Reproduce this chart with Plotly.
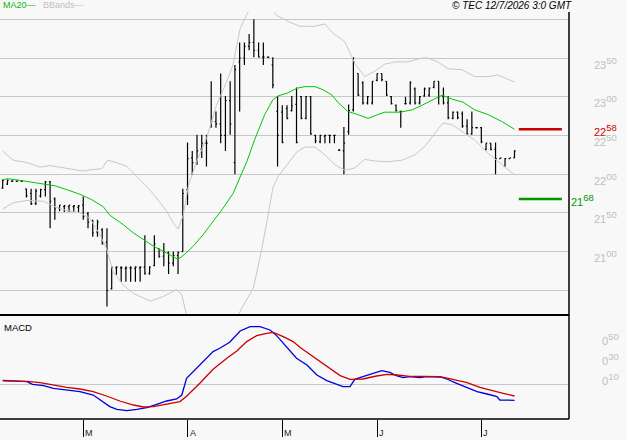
import plotly.graph_objects as go

# ---------------- data ----------------
opens = [21.82, 21.87, 21.91, 21.91, 21.91, 21.81, 21.75, 21.62, 21.72, 21.80,
         21.90, 21.68, 21.56, 21.58, 21.58, 21.58, 21.57, 21.60, 21.49, 21.40,
         21.25, 21.28, 21.12, 20.52, 20.79, 20.79, 20.78, 20.79, 20.78, 20.79,
         20.80, 20.72, 20.82, 21.04, 20.94, 20.99, 20.85, 20.95, 21.00, 21.80,
         22.21, 22.15, 22.32, 22.40, 22.62, 22.68, 22.65, 22.50, 22.95, 22.15,
         23.45, 23.50, 23.65, 23.70, 23.60, 23.51, 23.51, 23.41, 22.81, 22.80,
         22.85, 22.82, 22.90, 23.00, 22.72, 23.00, 22.50, 22.42, 22.49, 22.50,
         22.50, 22.31, 22.30, 22.55, 22.83, 23.30, 23.18, 22.92, 22.92, 23.21,
         23.30, 23.20, 23.00, 22.89, 22.81, 22.91, 22.92, 23.10, 22.92, 23.01,
         23.02, 23.12, 23.20, 23.00, 22.92, 22.72, 22.80, 22.78, 22.62, 22.52,
         22.60, 22.60, 22.32, 22.40, 22.32, 22.20, 22.10, 22.20, 22.21]
highs = [21.93, 21.93, 21.92, 21.92, 21.92, 21.81, 21.81, 21.81, 21.81, 21.91,
         21.91, 21.70, 21.60, 21.60, 21.60, 21.60, 21.60, 21.71, 21.51, 21.41,
         21.41, 21.30, 21.30, 20.81, 20.81, 20.81, 20.81, 20.81, 20.81, 20.81,
         21.21, 20.81, 21.21, 21.04, 21.11, 21.00, 21.00, 21.00, 21.81, 22.41,
         22.30, 22.51, 22.51, 22.51, 23.20, 22.81, 23.30, 23.01, 23.20, 23.41,
         23.70, 23.70, 23.81, 24.00, 23.70, 23.70, 23.52, 23.51, 23.01, 22.89,
         22.89, 23.01, 23.12, 23.01, 23.01, 23.01, 22.51, 22.51, 22.51, 22.51,
         22.51, 22.32, 22.61, 22.90, 23.51, 23.30, 23.20, 23.01, 23.20, 23.30,
         23.30, 23.20, 23.01, 22.90, 22.81, 23.00, 23.20, 23.12, 23.01, 23.12,
         23.12, 23.20, 23.20, 23.12, 23.01, 22.81, 22.81, 22.81, 22.71, 22.81,
         22.61, 22.61, 22.40, 22.40, 22.41, 22.21, 22.21, 22.21, 22.31]
lows = [21.81, 21.86, 21.90, 21.90, 21.90, 21.70, 21.60, 21.60, 21.70, 21.71,
        21.30, 21.41, 21.52, 21.51, 21.51, 21.51, 21.50, 21.41, 21.30, 21.19,
        21.19, 21.09, 20.29, 20.51, 20.70, 20.61, 20.61, 20.61, 20.61, 20.61,
        20.70, 20.70, 20.81, 20.92, 20.81, 20.71, 20.81, 20.71, 21.00, 21.60,
        21.99, 22.12, 22.21, 22.10, 22.60, 22.60, 22.40, 22.30, 22.51, 22.00,
        22.81, 23.41, 23.60, 23.51, 23.51, 23.41, 23.50, 23.11, 22.10, 22.40,
        22.71, 22.81, 22.40, 22.71, 22.71, 22.51, 22.40, 22.40, 22.40, 22.40,
        22.40, 22.30, 22.00, 22.51, 22.81, 23.01, 22.90, 22.90, 22.90, 23.20,
        23.20, 23.01, 22.90, 22.81, 22.60, 22.90, 22.90, 22.90, 22.90, 23.00,
        23.00, 23.11, 22.90, 22.90, 22.71, 22.71, 22.71, 22.60, 22.51, 22.51,
        22.59, 22.40, 22.31, 22.31, 22.00, 22.20, 22.10, 22.20, 22.21]
closes = [21.92, 21.92, 21.91, 21.91, 21.91, 21.72, 21.62, 21.78, 21.80, 21.90,
          21.65, 21.55, 21.60, 21.59, 21.60, 21.59, 21.59, 21.45, 21.38, 21.24,
          21.38, 21.10, 20.50, 20.79, 20.80, 20.79, 20.79, 20.79, 20.80, 20.80,
          20.72, 20.80, 21.10, 20.94, 21.00, 20.85, 20.95, 20.99, 21.75, 22.20,
          22.15, 22.30, 22.40, 22.40, 22.68, 22.65, 22.50, 22.95, 22.65, 23.35,
          23.50, 23.65, 23.70, 23.60, 23.51, 23.51, 23.51, 23.15, 22.50, 22.41,
          22.72, 22.88, 22.41, 22.72, 23.00, 22.52, 22.43, 22.50, 22.50, 22.50,
          22.50, 22.31, 22.40, 22.82, 23.45, 23.02, 22.92, 23.00, 23.20, 23.30,
          23.22, 23.02, 22.91, 22.82, 22.81, 22.91, 23.18, 22.92, 23.00, 23.10,
          23.11, 23.20, 23.00, 22.92, 22.73, 22.80, 22.73, 22.62, 22.52, 22.60,
          22.60, 22.42, 22.40, 22.32, 22.20, 22.21, 22.20, 22.21, 22.30]
bar_idx = list(range(len(closes)))

month_ticks = [17, 39, 59, 79, 101]
month_labels = ["M", "A", "M", "J", "J"]

ma_x = [0, 1.2, 3.6, 6.5, 8.9, 11, 13.5, 16.3, 18.8, 21.2, 22.6, 25.4, 27.6, 29.7, 31.8,
        34.6, 37, 38.5, 40.2, 42.3, 44.4, 46.5, 48.6, 50, 51.5, 53.2, 55.3, 57, 58.1,
        60.2, 62.1, 63.8, 65.9, 67.6, 69.5, 70.7, 72.8, 74.9, 77.1, 79.2, 80.6, 83.8,
        86.4, 88.5, 90.6, 92.7, 94.8, 97.1, 99.6, 102.4, 105.3, 108]
ma_v = [21.93, 21.94, 21.92, 21.89, 21.87, 21.85, 21.80, 21.74, 21.67, 21.58, 21.47,
        21.35, 21.24, 21.15, 21.07, 20.98, 20.90, 20.97, 21.07, 21.22, 21.39, 21.56,
        21.75, 21.95, 22.16, 22.45, 22.77, 22.96, 23.01, 23.05, 23.11, 23.13, 23.13,
        23.09, 23.02, 22.93, 22.81, 22.77, 22.72, 22.77, 22.80, 22.80, 22.83, 22.89,
        22.96, 23.02, 22.97, 22.93, 22.83, 22.77, 22.68, 22.58]

ub_x = [0, 2.2, 5.1, 7.9, 10, 12.1, 14.6, 17, 19.1, 20.9, 22.1, 24, 26.2, 28.3, 30.4,
        32.5, 34.6, 36, 37, 38.1, 39.2, 40.9, 43, 45.1, 47.3, 48.6, 50.1, 51.5, 54.5,
        57.8, 60.3, 62.7, 65.9, 68, 69.7, 72.2, 74.3, 76.4, 78.5, 80.6, 82.8, 85.5,
        88.5, 89.7, 91.8, 94, 96.9, 99.6, 102.4, 104.5, 108]
ub_v = [22.30, 22.18, 22.15, 22.09, 22.11, 22.09, 22.06, 22.04, 22.06, 22.07, 22.18,
        22.15, 22.10, 21.97, 21.84, 21.69, 21.52, 21.37, 21.29, 21.47, 21.86, 22.16,
        22.46, 22.89, 23.20, 23.41, 23.88, 24.06, 24.35, 24.05, 23.97, 23.91, 23.91,
        23.94, 23.82, 23.71, 23.43, 23.26, 23.33, 23.42, 23.45, 23.45, 23.50, 23.50,
        23.45, 23.36, 23.35, 23.26, 23.26, 23.28, 23.19]

lb_x = [0, 2.2, 5.1, 8.6, 11, 13.5, 16.3, 18.4, 20.5, 21.9, 23.3, 25.4, 27.6, 31.1,
        33.9, 36.7, 37.8, 38.8, 41, 44, 47, 50.1, 52.9, 54.7, 56, 57, 58.1, 60.2,
        62.1, 63.8, 65.9, 68, 70.1, 72.2, 74.3, 76.4, 78.5, 81.3, 84.2, 87, 89.1,
        91.2, 92.9, 94.8, 96.9, 99.6, 102.4, 105.3, 108]
lb_v = [21.55, 21.63, 21.66, 21.65, 21.58, 21.53, 21.50, 21.43, 21.22, 21.04, 20.74,
        20.57, 20.46, 20.36, 20.42, 20.51, 20.44, 20.18, 19.85, 19.60, 19.75, 20.23,
        20.53, 21.04, 21.47, 21.82, 21.97, 22.14, 22.29, 22.35, 22.35, 22.25, 22.12,
        22.05, 22.08, 22.19, 22.17, 22.16, 22.18, 22.25, 22.36, 22.53, 22.66, 22.64,
        22.55, 22.44, 22.27, 22.12, 21.99]

macd_x = [0, 5.1, 6.3, 8.6, 10.7, 13.5, 16.3, 19.1, 21.2, 22.6, 24.1, 26.2, 28.3, 30.4,
          32.5, 34.6, 36.7, 37.8, 38.8, 40.2, 42.3, 44.4, 45.8, 47.9, 50.1, 52.2, 54.3,
          56.4, 57.8, 59.9, 62, 64.2, 66.3, 68.4, 70.5, 71.8, 73.3, 74.3, 76, 78.1, 80,
          81.7, 83.2, 84.5, 85.9, 88, 89.5, 92.3, 93.7, 95.8, 98, 100.1, 102.2, 104.3,
          104.9, 108]
macd_v = [0.04, 0.027, 0.0, -0.013, -0.04, -0.06, -0.073, -0.107, -0.173, -0.223, -0.25,
          -0.263, -0.25, -0.233, -0.20, -0.167, -0.147, -0.107, 0.06, 0.127, 0.227, 0.327,
          0.36, 0.42, 0.533, 0.577, 0.577, 0.543, 0.487, 0.377, 0.26, 0.193, 0.093, 0.037,
          0.0, -0.023, -0.023, 0.05, 0.077, 0.11, 0.137, 0.12, 0.083, 0.067, 0.077, 0.067,
          0.077, 0.073, 0.053, 0.01, -0.033, -0.073, -0.097, -0.123, -0.157, -0.16]

sig_x = [0, 5.1, 7.9, 10.7, 13.5, 16.3, 19.1, 21.9, 24.7, 27.6, 29.7, 31.8, 34.6, 37.4,
         38.8, 40.2, 41.6, 43.4, 44.4, 47.3, 49.4, 51.5, 53.6, 55.7, 57.1, 59.2, 61.3,
         62.7, 64.8, 66.9, 69.1, 71.2, 73.3, 76, 78.9, 81.1, 83.2, 85.9, 88.7, 92.3, 95,
         98, 100.7, 103.4, 105.6, 108]
sig_v = [0.035, 0.03, 0.017, -0.007, -0.03, -0.047, -0.073, -0.117, -0.167, -0.207,
         -0.227, -0.223, -0.20, -0.173, -0.12, -0.057, 0.01, 0.10, 0.15, 0.26, 0.333,
         0.427, 0.487, 0.51, 0.52, 0.477, 0.427, 0.37, 0.30, 0.227, 0.153, 0.087, 0.05,
         0.053, 0.083, 0.10, 0.093, 0.08, 0.08, 0.077, 0.05, 0.017, -0.03, -0.067, -0.09,
         -0.117]

price_grid = [20.50, 21.00, 21.50, 22.00, 22.50, 23.00, 23.50, 24.00]
price_ticks = [21.00, 21.50, 22.00, 22.50, 23.00, 23.50]
macd_ticks = [0.10, 0.30, 0.50]
res_level = 22.58
sup_level = 21.68

# ---------------- figure ----------------
W, H = 627, 440
mt, mb, mr = 12, 21, 58
plot_h = H - mt - mb            # 407
split = 104 / plot_h            # MACD panel height fraction
x_range = [-0.57, 119.5]
y_range = [20.181, 24.094]
m_range = [-0.347, 0.693]

FONT = "Liberation Sans, Arial, sans-serif"


def fmt(v):
    cents = int(round(v * 100))
    return (f"{cents // 100}<sup><span style='font-size:9.5px'>"
            f"{cents % 100:02d}</span></sup>")


fig = go.Figure()

fig.add_trace(go.Scatter(x=ub_x, y=ub_v, mode="lines", line=dict(color="#c8c8c8", width=1),
                         hoverinfo="skip", showlegend=False))
fig.add_trace(go.Scatter(x=lb_x, y=lb_v, mode="lines", line=dict(color="#c8c8c8", width=1),
                         hoverinfo="skip", showlegend=False))
fig.add_trace(go.Ohlc(x=bar_idx, open=opens, high=highs, low=lows, close=closes,
                      increasing=dict(line=dict(color="black", width=1.2)),
                      decreasing=dict(line=dict(color="black", width=1.2)),
                      tickwidth=0.25, hoverinfo="skip", showlegend=False))
fig.add_trace(go.Scatter(x=ma_x, y=ma_v, mode="lines", line=dict(color="#00c800", width=1),
                         hoverinfo="skip", showlegend=False))

n = len(closes)
fig.add_trace(go.Scatter(x=[n - 0.1, n + 9], y=[res_level, res_level], mode="lines",
                         line=dict(color="#cc0000", width=2.5), hoverinfo="skip",
                         showlegend=False))
fig.add_trace(go.Scatter(x=[n - 0.1, n + 9], y=[sup_level, sup_level], mode="lines",
                         line=dict(color="#009900", width=2.5), hoverinfo="skip",
                         showlegend=False))

fig.add_trace(go.Scatter(x=macd_x, y=macd_v, mode="lines", xaxis="x2", yaxis="y2",
                         line=dict(color="#0000dd", width=1.3), hoverinfo="skip",
                         showlegend=False))
fig.add_trace(go.Scatter(x=sig_x, y=sig_v, mode="lines", xaxis="x2", yaxis="y2",
                         line=dict(color="#cc0000", width=1.3), hoverinfo="skip",
                         showlegend=False))

annotations = []
# legend
annotations.append(dict(text="MA20—", x=0, xref="paper", xanchor="left", xshift=1,
                        y=1, yref="paper", yanchor="middle", yshift=7.5, showarrow=False,
                        font=dict(family=FONT, size=9, color="#00c000")))
annotations.append(dict(text="BBands—", x=0, xref="paper", xanchor="left", xshift=41,
                        y=1, yref="paper", yanchor="middle", yshift=7.5, showarrow=False,
                        font=dict(family=FONT, size=9, color="#c0c0c0")))
annotations.append(dict(text="<i>© TEC 12/7/2026 3:0 GMT</i>", x=1, xref="paper",
                        xanchor="right", xshift=5, y=1, yref="paper", yanchor="middle",
                        yshift=7, showarrow=False,
                        font=dict(family=FONT, size=10, color="black")))
annotations.append(dict(text="MACD", x=0, xref="paper", xanchor="left", xshift=2,
                        y=split, yref="paper", yanchor="middle", yshift=-12.5,
                        showarrow=False, font=dict(family=FONT, size=9.5, color="black")))
for v in price_ticks:
    annotations.append(dict(text=fmt(v), x=1, xref="paper", xanchor="left", xshift=23,
                            y=v, yref="y", yanchor="middle", yshift=-4.5, showarrow=False,
                            font=dict(family=FONT, size=11, color="#c0c0c0")))
for v in macd_ticks:
    annotations.append(dict(text=fmt(v), x=1, xref="paper", xanchor="left", xshift=31,
                            y=v, yref="y2", yanchor="middle", yshift=-5, showarrow=False,
                            font=dict(family=FONT, size=11, color="#c0c0c0")))
annotations.append(dict(text=fmt(res_level), x=1, xref="paper", xanchor="left", xshift=23,
                        y=res_level, yref="y", yanchor="middle", yshift=-1, showarrow=False,
                        font=dict(family=FONT, size=11, color="#cc0000")))
annotations.append(dict(text=fmt(sup_level), x=1, xref="paper", xanchor="left", xshift=0,
                        y=sup_level, yref="y", yanchor="middle", yshift=-1, showarrow=False,
                        font=dict(family=FONT, size=11, color="#009900")))
for t, lab in zip(month_ticks, month_labels):
    annotations.append(dict(text=lab, x=t, xref="x2", xanchor="left", xshift=0,
                            y=0, yref="paper", yanchor="top", yshift=-7, showarrow=False,
                            font=dict(family=FONT, size=9, color="#222222")))

shapes = [
    dict(type="line", xref="paper", yref="paper", x0=0, x1=1, y0=split, y1=split,
         line=dict(color="black", width=2)),
    dict(type="line", xref="paper", yref="paper", x0=0, x1=1, y0=0, y1=0,
         line=dict(color="black", width=1.5)),
    dict(type="line", xref="paper", yref="paper", x0=1, x1=1, y0=0, y1=1,
         line=dict(color="black", width=1.5)),
]

fig.update_layout(
    width=W, height=H,
    margin=dict(l=0, r=mr, t=mt, b=mb, pad=0),
    paper_bgcolor="#f8f8f8", plot_bgcolor="#f8f8f8",
    showlegend=False,
    xaxis=dict(domain=[0, 1], anchor="y", range=x_range, showgrid=False, zeroline=False,
               showticklabels=False, ticks="", rangeslider=dict(visible=False),
               fixedrange=True),
    xaxis2=dict(domain=[0, 1], anchor="y2", range=x_range, matches="x", showgrid=False,
                zeroline=False, showticklabels=False, ticks="outside", tickvals=month_ticks,
                ticklen=17, tickwidth=1, tickcolor="black",
                rangeslider=dict(visible=False), fixedrange=True),
    yaxis=dict(domain=[split, 1], anchor="x", range=y_range, tickvals=price_grid,
               showticklabels=False, showgrid=True, gridcolor="#c8c8c8", gridwidth=1,
               zeroline=False, ticks="", fixedrange=True),
    yaxis2=dict(domain=[0, split], anchor="x2", range=m_range, showgrid=False,
                showticklabels=False, zeroline=True, zerolinecolor="#c8c8c8",
                zerolinewidth=1, ticks="", fixedrange=True),
    annotations=annotations,
    shapes=shapes,
)

fig.write_html("out.html")
